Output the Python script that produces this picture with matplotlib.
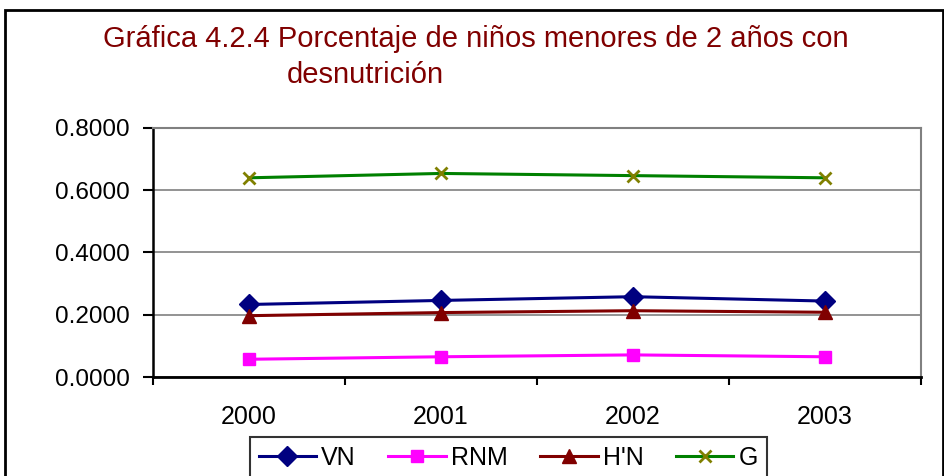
import matplotlib
matplotlib.use('Agg')
import matplotlib.pyplot as plt
from matplotlib.patches import Rectangle

plt.rcParams['font.family'] = ['Liberation Sans', 'DejaVu Sans']

# Datos
anios = ['2000', '2001', '2002', '2003']
vn = [0.233, 0.246, 0.258, 0.244]
rnm = [0.057, 0.065, 0.071, 0.065]
hn = [0.197, 0.207, 0.213, 0.208]
g = [0.640, 0.654, 0.647, 0.640]
yticks = [0.0, 0.2, 0.4, 0.6, 0.8]

fig = plt.figure(figsize=(9.45, 4.76), dpi=100)
ax = fig.add_axes([153 / 945, 1 - 377 / 476, (921 - 153) / 945, (377 - 128) / 476])

x = range(len(anios))
ax.plot(x, vn, color='#000080', lw=2.2, marker='D', ms=10, label='VN', zorder=3)
ax.plot(x, rnm, color='#ff00ff', lw=2.2, marker='s', ms=9, label='RNM', zorder=3)
ax.plot(x, hn, color='#800000', lw=2.2, marker='^', ms=10.5, label="H'N", zorder=3)
ax.plot(x, g, color='#008000', lw=2.2, marker='x', ms=8, mew=2, mec='#808000', label='G', zorder=3)

ax.set_xlim(-0.5, 3.5)
ax.set_ylim(0, 0.8)
ax.set_yticks(yticks)
ax.set_yticklabels([f'{v:.4f}' for v in yticks], fontsize=17.5)
ax.set_xticks(list(x))
ax.set_xticklabels(anios, fontsize=18)
ax.set_xticks([-0.5, 0.5, 1.5, 2.5, 3.5], minor=True)
ax.tick_params(axis='x', which='major', length=0, pad=20)
ax.tick_params(axis='x', which='minor', length=6, width=1.5, direction='out')
ax.tick_params(axis='y', length=7, width=1.5, direction='out', pad=9.5)
ax.grid(axis='y', color='#808080', lw=1.2)
ax.set_axisbelow(True)
for s in ['top', 'right']:
    ax.spines[s].set_color('#808080')
    ax.spines[s].set_linewidth(1.5)
ax.spines['left'].set_linewidth(1.8)
ax.spines['bottom'].set_linewidth(2)

fig.text(476 / 945, 1 - 47 / 476, 'Gráfica 4.2.4 Porcentaje de niños menores de 2 años con',
         ha='center', va='baseline', fontsize=21, color='#800000')
fig.text(287 / 945, 1 - 83 / 476, 'desnutrición',
         ha='left', va='baseline', fontsize=21, color='#800000')

leg = fig.legend(loc='upper left', bbox_to_anchor=(250 / 945, 1 - 437 / 476), ncol=4,
                 fontsize=18, frameon=True, fancybox=False, edgecolor='black',
                 handlelength=2.3, handletextpad=0.2, columnspacing=1.3,
                 borderpad=0.35, borderaxespad=0)
leg.get_frame().set_linewidth(1.5)

fig.patches.append(Rectangle((5 / 945, -0.1), (943 - 5) / 945, 1.1 - 10 / 476,
                             transform=fig.transFigure, fill=False, ec='black', lw=2))

fig.savefig('out.png', dpi=100)
